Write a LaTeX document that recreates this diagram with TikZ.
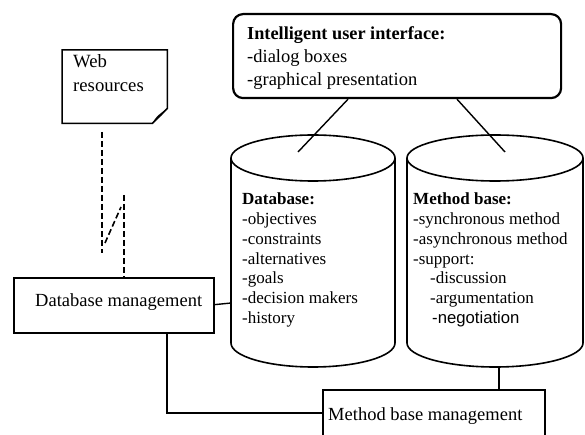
\documentclass[tikz,border=0pt]{standalone}
\usepackage{fontspec}
\setmainfont{Liberation Serif}
\newfontfamily\arialf{Liberation Sans}
\begin{document}
\begin{tikzpicture}[x=1pt,y=1pt,
  thickbox/.style={draw, line width=2.2pt, inner sep=0pt, anchor=north west},
  conn/.style={line width=1.4pt},
  cyl/.style={line width=1.6pt},
  dashconn/.style={line width=1.6pt, dash pattern=on 6pt off 3pt},
  cyltext/.style={anchor=base west, inner sep=0pt, font=\fontsize{17}{20}\selectfont},
  boxtext/.style={anchor=base west, inner sep=0pt, font=\fontsize{18.5}{22}\selectfont},
]
\useasboundingbox (0,0) rectangle (585,-435);

% ---------- Intelligent user interface ----------
\node[thickbox, rounded corners=10pt, minimum width=328pt, minimum height=84pt] (ui) at (232,-13) {};
\node[boxtext, font=\bfseries\fontsize{18.3}{22}\selectfont] (ui1) at (247,-40) {Intelligent user interface:};
\node[boxtext] (ui2) at (247,-63) {-dialog boxes};
\node[boxtext] (ui3) at (247,-86) {-graphical presentation};

% ---------- Web resources ----------
\node[inner sep=0pt, minimum width=105pt, minimum height=73pt, anchor=north west] (web) at (62,-50) {};
\draw[line width=1.5pt] (web.north west) -- (web.north east) -- ([yshift=15pt]web.south east)
  -- ([xshift=-15pt]web.south east) -- (web.south west) -- cycle;
\fill ([xshift=-15pt]web.south east) .. controls ([xshift=-11pt,yshift=7pt]web.south east) .. ([yshift=15pt]web.south east)
  -- ([xshift=-6pt,yshift=8pt]web.south east) -- cycle;
\node[boxtext, font=\fontsize{18.7}{22}\selectfont] (web1) at (73,-68) {Web};
\node[boxtext, font=\fontsize{18.7}{22}\selectfont] (web2) at (73,-92) {resources};

% ---------- Database management ----------
\node[thickbox, minimum width=200pt, minimum height=55pt] (dbm) at (13,-277) {};
\node[boxtext] (dbmt) at (35,-306) {Database management};

% ---------- Method base management ----------
\node[thickbox, minimum width=222pt, minimum height=60pt] (mbm) at (322,-389) {};
\node[boxtext] (mbmt) at (328,-420) {Method base management};

% ---------- Database cylinder ----------
\coordinate (dbc) at (313,-158);
\draw[cyl] (dbc) ellipse [x radius=82, y radius=23];
\draw[cyl] (231,-158) -- (231,-343) arc[start angle=180, end angle=360, x radius=82, y radius=24] -- (395,-158);
\coordinate (dbtop) at (298,-152);
\coordinate (dbleft) at (231,-303);

% ---------- Method base cylinder ----------
\coordinate (mbc) at (495,-158);
\draw[cyl] (mbc) ellipse [x radius=88, y radius=23];
\draw[cyl] (407,-158) -- (407,-343) arc[start angle=180, end angle=360, x radius=88, y radius=24] -- (583,-158);
\coordinate (mbtop) at (505,-152);
\coordinate (mbbot) at (499,-366.5);

% ---------- Cylinder texts ----------
\node[cyltext, font=\bfseries\fontsize{17}{20}\selectfont] (db0) at (242,-205) {Database:};
\foreach \t [count=\i] in {-objectives,-constraints,-alternatives,-goals,-decision makers,-history}
  \node[cyltext] (db\i) at (242,-205-19.7*\i) {\t};

\node[cyltext, font=\bfseries\fontsize{17}{20}\selectfont] (mb0) at (413,-205) {Method base:};
\node[cyltext] (mb1) at (413,-224.7) {-synchronous method};
\node[cyltext] (mb2) at (413,-244.4) {-asynchronous method};
\node[cyltext] (mb3) at (413,-264.1) {-support:};
\node[cyltext] (mb4) at (430,-283.8) {-discussion};
\node[cyltext] (mb5) at (430,-303.5) {-argumentation};
\node[cyltext, font=\arialf\fontsize{16.7}{20}\selectfont] (mb6) at (432,-323.2) {-negotiation};

% ---------- Connectors ----------
\draw[conn] ([xshift=116pt]ui.south west) -- (dbtop);
\draw[conn] ([xshift=225pt]ui.south west) -- (mbtop);
\draw[conn] ([yshift=1pt]dbm.east) -- (dbleft);
\draw[conn] ([xshift=154pt]dbm.south west) |- ([yshift=-24pt]mbm.north west);
\draw[conn] (mbbot) -- (mbm.north west -| mbbot);

% dashed link from web resources
\coordinate (w1) at (102,-132);
\coordinate (w2) at (102,-253);
\coordinate (w3) at (105,-243);
\coordinate (w4) at (121,-207);
\coordinate (w5) at (124,-195);
\draw[dashconn] (w1) -- (w2);
\draw[dashconn] (w3) -- (w4);
\draw[dashconn] (w5) -- (w5 |- dbm.north);
\end{tikzpicture}
\end{document}
